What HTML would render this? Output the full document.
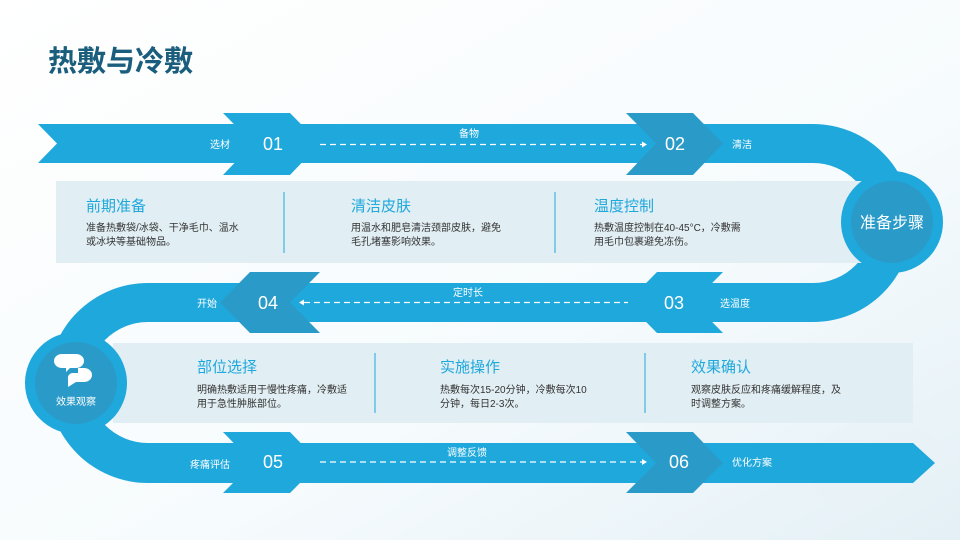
<!DOCTYPE html>
<html><head><meta charset="utf-8"><style>
body{margin:0;width:960px;height:540px;overflow:hidden;background:#fff}
svg{display:block}
text{font-family:"Liberation Sans","Noto Sans CJK SC",sans-serif}
</style></head><body>
<svg width="960" height="540" viewBox="0 0 960 540">
<defs>
<linearGradient id="bg" x1="0" y1="0" x2="1" y2="1"><stop offset="0" stop-color="#ffffff"/><stop offset="0.6" stop-color="#f6fbfd"/><stop offset="1" stop-color="#e4f0f6"/></linearGradient>
</defs>
<rect width="960" height="540" fill="url(#bg)"/>
<ellipse cx="880" cy="470" rx="70" ry="50" fill="#e8f1f6" opacity="0.6"/>
<text x="48" y="71" font-size="29" font-weight="bold" fill="#1a5d7d">热敷与冷敷</text>

<path d="M38,124 L813,124 A99,99 0 0 1 813,322 L148,322 L148,283 L813,283 A60,60 0 0 0 813,163 L38,163 L57,143.5 Z" fill="#1fa8dc"/>
<path d="M148,283 L148,322 A60.5,60.5 0 0 0 148,443 L913,443 L935,463 L913,483 L148,483 A100,100 0 0 1 148,283 Z" fill="#1fa8dc"/>

<rect x="56" y="181" width="810" height="82" fill="#e1eef3"/>
<rect x="113" y="343" width="800" height="80" fill="#e1eef3"/>
<line x1="284" y1="192" x2="284" y2="253" stroke="#1fa8dc" stroke-width="1"/>
<line x1="555" y1="192" x2="555" y2="253" stroke="#1fa8dc" stroke-width="1"/>
<line x1="375" y1="353" x2="375" y2="413" stroke="#1fa8dc" stroke-width="1"/>
<line x1="645" y1="353" x2="645" y2="413" stroke="#1fa8dc" stroke-width="1"/>

<polygon points="223,113 290,113 320,143.5 290,175 223,175 253,143.5" fill="#1fa8dc"/>
<polygon points="626,113 693,113 723,143.5 693,175 626,175 656,143.5" fill="#2a9bc8"/>
<polygon points="250,272 320,272 290,302.5 320,333 250,333 220,302.5" fill="#2a9bc8"/>
<polygon points="657,272 723,272 693,302.5 723,333 657,333 627,302.5" fill="#1fa8dc"/>
<polygon points="223,432 290,432 320,463 290,493 223,493 253,463" fill="#1fa8dc"/>
<polygon points="626,432 693,432 723,463 693,493 626,493 656,463" fill="#2a9bc8"/>

<circle cx="892" cy="222" r="51" fill="#1fa8dc"/>
<circle cx="892" cy="222" r="41" fill="#2a9bc8"/>
<text x="892" y="228" font-size="16" fill="#fff" text-anchor="middle">准备步骤</text>
<circle cx="76" cy="383" r="51" fill="#1fa8dc"/>
<circle cx="76" cy="383" r="41" fill="#2a9bc8"/>
<path d="M62,354 h14 a8,7 0 0 1 0,14 h-6 l-4,4 v-4 h-4 a8,7 0 0 1 0,-14 Z" fill="#fff"/>
<path d="M78,368 h6 a8,7 0 0 1 0,14 h-8 l-8,5 v-8 a5,5 0 0 1 4,-6 h6 Z" fill="#fff"/>
<text x="76" y="405" font-size="10" fill="#fff" text-anchor="middle">效果观察</text>

<g stroke="#fff" stroke-width="1.3" stroke-dasharray="6,4" fill="none">
<line x1="320" y1="144.5" x2="642" y2="144.5"/>
<line x1="304" y1="302.5" x2="628" y2="302.5"/>
<line x1="320" y1="462" x2="642" y2="462"/>
</g>
<g fill="#fff">
<polygon points="642,141.5 647,144.5 642,147.5"/>
<polygon points="304,299.5 299,302.5 304,305.5"/>
<polygon points="642,459 647,462 642,465"/>
</g>

<g fill="#fff" font-size="10">
<text x="210" y="148">选材</text>
<text x="459" y="137">备物</text>
<text x="732" y="148">清洁</text>
<text x="197" y="307">开始</text>
<text x="453" y="296">定时长</text>
<text x="720" y="307">选温度</text>
<text x="190" y="468">疼痛评估</text>
<text x="447" y="456">调整反馈</text>
<text x="732" y="466">优化方案</text>
</g>
<g fill="#fff" font-size="18">
<text x="263" y="150">01</text>
<text x="665" y="150">02</text>
<text x="258" y="309">04</text>
<text x="664" y="309">03</text>
<text x="263" y="468">05</text>
<text x="669" y="468">06</text>
</g>

<g fill="#1fa8dc" font-size="15">
<text x="86" y="211">前期准备</text>
<text x="351" y="211">清洁皮肤</text>
<text x="594" y="211">温度控制</text>
<text x="197" y="372">部位选择</text>
<text x="440" y="372">实施操作</text>
<text x="691" y="372">效果确认</text>
</g>
<g fill="#333" font-size="10">
<text x="86" y="231">准备热敷袋/冰袋、干净毛巾、温水</text>
<text x="86" y="245">或冰块等基础物品。</text>
<text x="351" y="231">用温水和肥皂清洁颈部皮肤，避免</text>
<text x="351" y="245">毛孔堵塞影响效果。</text>
<text x="594" y="231">热敷温度控制在40-45°C，冷敷需</text>
<text x="594" y="245">用毛巾包裹避免冻伤。</text>
<text x="197" y="393">明确热敷适用于慢性疼痛，冷敷适</text>
<text x="197" y="407">用于急性肿胀部位。</text>
<text x="440" y="393">热敷每次15-20分钟，冷敷每次10</text>
<text x="440" y="407">分钟，每日2-3次。</text>
<text x="691" y="393">观察皮肤反应和疼痛缓解程度，及</text>
<text x="691" y="407">时调整方案。</text>
</g>
</svg>
</body></html>
